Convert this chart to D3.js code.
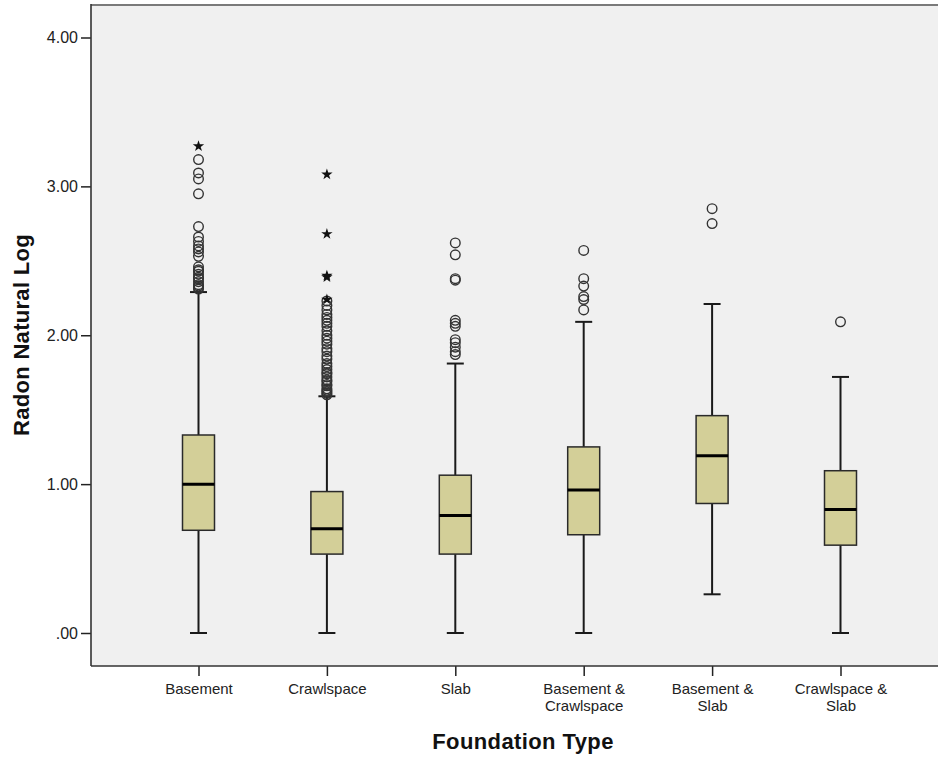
<!DOCTYPE html>
<html>
<head>
<meta charset="utf-8">
<script src="https://cdn.jsdelivr.net/npm/d3@7"></script>
<style>
  html, body { margin: 0; padding: 0; background: #ffffff; }
  svg { display: block; font-family: "Liberation Sans", Arial, sans-serif; }
</style>
</head>
<body>
<svg id="chart" width="938" height="759"></svg>
<script>
// ---- data ----
const categories = [
  ["Basement"],
  ["Crawlspace"],
  ["Slab"],
  ["Basement &", "Crawlspace"],
  ["Basement &", "Slab"],
  ["Crawlspace &", "Slab"]
];
const whiskerLow  = [0.00, 0.00, 0.00, 0.00, 0.26, 0.00];
const q1          = [0.69, 0.53, 0.53, 0.66, 0.87, 0.59];
const medians     = [1.00, 0.70, 0.79, 0.96, 1.19, 0.83];
const q3          = [1.33, 0.95, 1.06, 1.25, 1.46, 1.09];
const whiskerHigh = [2.29, 1.59, 1.81, 2.09, 2.21, 1.72];
const outliers = [
  [2.31, 2.32, 2.33, 2.34, 2.36, 2.38, 2.39, 2.41, 2.43, 2.44, 2.46, 2.53, 2.56, 2.58, 2.60, 2.63, 2.66, 2.73, 2.95, 3.05, 3.09, 3.18],
  [1.60, 1.61, 1.62, 1.63, 1.64, 1.66, 1.67, 1.69, 1.70, 1.72, 1.74, 1.75, 1.77, 1.79, 1.81, 1.84, 1.86, 1.89, 1.91, 1.94, 1.96, 1.98, 2.00, 2.03, 2.06, 2.08, 2.10, 2.12, 2.14, 2.17, 2.20, 2.23],
  [1.87, 1.89, 1.92, 1.95, 1.97, 2.06, 2.08, 2.10, 2.37, 2.38, 2.54, 2.62],
  [2.17, 2.24, 2.26, 2.33, 2.38, 2.57],
  [2.75, 2.85],
  [2.09]
];
const extremes = [
  [3.27],
  [2.24, 2.39, 2.40, 2.68, 3.08],
  [],
  [],
  [],
  []
];
const yTicks = [0, 1, 2, 3, 4];
const yTickLabels = [".00", "1.00", "2.00", "3.00", "4.00"];
const xTitle = "Foundation Type";
const yTitle = "Radon Natural Log";

// ---- drawing ----
const svg = d3.select("#chart");
const W = 938, H = 759;
const plot = { left: 91, top: 4, bottom: 666, right: W + 20 };

const y = d3.scaleLinear().domain([0, 4]).range([633, 37.5]);
const x = d3.scalePoint().domain(d3.range(categories.length)).range([198.5, 840.5]);

const boxW = 32, capW = 17;

// plot background
svg.append("rect")
  .attr("x", plot.left).attr("y", plot.top)
  .attr("width", plot.right - plot.left).attr("height", plot.bottom - plot.top)
  .attr("fill", "#f0f0f0");
// top frame line
svg.append("line")
  .attr("x1", plot.left).attr("x2", plot.right)
  .attr("y1", plot.top + 1).attr("y2", plot.top + 1)
  .attr("stroke", "#7a7a7a").attr("stroke-width", 2);

// y axis
const yAxis = d3.axisLeft(y)
  .tickValues(yTicks)
  .tickFormat((d, i) => yTickLabels[i])
  .tickSize(10).tickSizeOuter(0).tickPadding(3);
const gy = svg.append("g").attr("transform", `translate(${plot.left},0)`).call(yAxis);
gy.select(".domain").remove();
gy.selectAll(".tick line").attr("stroke", "#222").attr("stroke-width", 1.5);
gy.selectAll(".tick text").attr("fill", "#222").style("font-size", "16px")
  .style("font-family", "'Liberation Sans', Arial, sans-serif");
svg.append("line")
  .attr("x1", plot.left).attr("x2", plot.left)
  .attr("y1", plot.top).attr("y2", plot.bottom)
  .attr("stroke", "#333").attr("stroke-width", 1.6);

// x axis
const xAxis = d3.axisBottom(x).tickSize(10).tickSizeOuter(0).tickFormat(() => "");
const gx = svg.append("g").attr("transform", `translate(0,${plot.bottom})`).call(xAxis);
gx.select(".domain").remove();
gx.selectAll(".tick line").attr("stroke", "#222").attr("stroke-width", 1.5);
svg.append("line")
  .attr("x1", plot.left).attr("x2", plot.right)
  .attr("y1", plot.bottom).attr("y2", plot.bottom)
  .attr("stroke", "#333").attr("stroke-width", 1.6);

// x tick labels (multi-line)
gx.selectAll(".tick").each(function(d) {
  const t = d3.select(this).append("text")
    .attr("text-anchor", "middle")
    .attr("fill", "#222")
    .style("font-size", "15px")
    .style("font-family", "'Liberation Sans', Arial, sans-serif");
  categories[d].forEach((line, j) => {
    t.append("tspan").attr("x", 0).attr("y", 28 + j * 17).text(line);
  });
});

// boxes
const groups = svg.append("g").selectAll("g.box")
  .data(d3.range(categories.length))
  .join("g").attr("class", "box")
  .attr("transform", i => `translate(${x(i)},0)`);

// whiskers (vertical)
groups.append("line")
  .attr("x1", 0).attr("x2", 0)
  .attr("y1", i => y(whiskerHigh[i])).attr("y2", i => y(q3[i]))
  .attr("stroke", "#1a1a1a").attr("stroke-width", 2);
groups.append("line")
  .attr("x1", 0).attr("x2", 0)
  .attr("y1", i => y(q1[i])).attr("y2", i => y(whiskerLow[i]))
  .attr("stroke", "#1a1a1a").attr("stroke-width", 2);
// caps
groups.append("line")
  .attr("x1", -capW / 2).attr("x2", capW / 2)
  .attr("y1", i => y(whiskerHigh[i])).attr("y2", i => y(whiskerHigh[i]))
  .attr("stroke", "#1a1a1a").attr("stroke-width", 2);
groups.append("line")
  .attr("x1", -capW / 2).attr("x2", capW / 2)
  .attr("y1", i => y(whiskerLow[i])).attr("y2", i => y(whiskerLow[i]))
  .attr("stroke", "#1a1a1a").attr("stroke-width", 2);
// box
groups.append("rect")
  .attr("x", -boxW / 2).attr("width", boxW)
  .attr("y", i => y(q3[i])).attr("height", i => y(q1[i]) - y(q3[i]))
  .attr("fill", "#d3cf98").attr("stroke", "#2a2a2a").attr("stroke-width", 1.5);
// median
groups.append("line")
  .attr("x1", -boxW / 2).attr("x2", boxW / 2)
  .attr("y1", i => y(medians[i])).attr("y2", i => y(medians[i]))
  .attr("stroke", "#000").attr("stroke-width", 3);

// outliers (circles) and extremes (stars)
groups.each(function(i) {
  d3.select(this).selectAll("circle")
    .data(outliers[i]).join("circle")
    .attr("cx", 0).attr("cy", v => y(v)).attr("r", 4.8)
    .attr("fill", "none").attr("stroke", "#333").attr("stroke-width", 1.4);
  d3.select(this).selectAll("path.star")
    .data(extremes[i]).join("path").attr("class", "star")
    .attr("transform", v => `translate(0,${y(v)})`)
    .attr("d", d3.symbol(d3.symbolStar, 40))
    .attr("fill", "#111");
});

// axis titles
svg.append("text")
  .attr("x", 523).attr("y", 749)
  .attr("text-anchor", "middle")
  .style("font-size", "22px").style("font-weight", "bold")
  .style("letter-spacing", "0.4px")
  .attr("fill", "#111")
  .text(xTitle);
svg.append("text")
  .attr("transform", "translate(29,335) rotate(-90)")
  .attr("text-anchor", "middle")
  .style("font-size", "22px").style("font-weight", "bold")
  .style("letter-spacing", "0.3px")
  .attr("fill", "#111")
  .text(yTitle);
</script>
</body>
</html>
